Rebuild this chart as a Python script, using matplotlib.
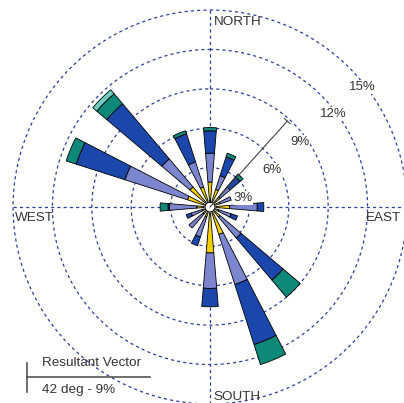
import matplotlib
matplotlib.use("Agg")
import matplotlib.pyplot as plt
import numpy as np
from matplotlib.lines import Line2D

# wind rose: 16 directions, frequency (%) per speed class
directions = [0, 22.5, 45, 67.5, 90, 112.5, 135, 157.5,
              180, 202.5, 225, 247.5, 270, 292.5, 315, 337.5]
class1 = [1.9, 1.4, 1.0, 0.8, 1.5, 0.7, 1.0, 2.2, 3.5, 0.8, 0.7, 0.6, 1.0, 1.8, 2.0, 1.6]
class2 = [2.2, 1.1, 1.0, 0.9, 2.1, 1.0, 2.1, 4.0, 2.7, 1.6, 1.4, 0.9, 2.1, 5.0, 2.8, 2.0]
class3 = [1.7, 1.5, 1.0, 0.0, 0.5, 0.5, 4.2, 4.8, 1.4, 0.7, 0.0, 0.4, 0.1, 3.9, 5.5, 2.25]
class4 = [0.25, 0.3, 0.3, 0.0, 0.0, 0.0, 1.7, 1.6, 0.0, 0.0, 0.0, 0.0, 0.6, 0.8, 1.0, 0.25]
class5 = [0, 0, 0, 0, 0, 0, 0, 0, 0, 0, 0, 0, 0, 0, 0.4, 0]
colors = ["#f5d000", "#7b86cf", "#1b47ad", "#0e8878", "#6ecbc0"]

rings = [3, 6, 9, 12, 15]
ring_labels = ["3%", "6%", "9%", "12%", "15%"]
label_pos = [(74.7, 2.6), (59.2, 5.5), (54.2, 8.45), (52.9, 11.74), (51.7, 14.75)]

vector_dir = 42
vector_len = 8.8

W, H = 404, 403
fig = plt.figure(figsize=(W / 100, H / 100), dpi=100)
plt.rcParams['font.family'] = ['Liberation Sans', 'DejaVu Sans']

# axes placed so the centre sits at (210, 207) px, 13.13 px per %
rmax = 15.3
scale = 13.13
cx, cy = 210, 207
rad = rmax * scale
ax = fig.add_axes([(cx - rad) / W, (H - cy - rad) / H, 2 * rad / W, 2 * rad / H],
                  projection="polar")
ax.set_theta_zero_location("N")
ax.set_theta_direction(-1)
ax.set_ylim(0, rmax)
ax.axis("off")

gridc = "#2d3d9e"
t = np.linspace(0, 2 * np.pi, 400)
for r in rings:
    ax.plot(t, np.full_like(t, r), color=gridc, lw=0.9, ls=(0, (2.5, 2.5)), zorder=1)
for a in [0, 90, 180, 270]:
    ax.plot([np.deg2rad(a)] * 2, [0, 15], color=gridc, lw=0.9, ls=(0, (2.5, 2.5)), zorder=1)

theta = np.deg2rad(directions)
width = np.deg2rad(9.5)
bottom = np.zeros(len(directions))
for vals, c in zip([class1, class2, class3, class4, class5], colors):
    vals = np.array(vals, dtype=float)
    m = vals > 0
    ax.bar(theta[m], vals[m], width=width, bottom=bottom[m], color=c,
           edgecolor="black", linewidth=0.6, zorder=3)
    bottom += vals

# calm circle
ax.plot(t, np.full_like(t, 0.38), color="black", lw=0.8, zorder=5)
ax.fill(t, np.full_like(t, 0.38), color="white", zorder=4)

# resultant vector
vt = np.deg2rad(vector_dir)
ax.plot([vt, vt], [0, vector_len], color="#444444", lw=0.8, zorder=6)
d = 0.3
rr = np.hypot(vector_len, d)
dt = np.arctan(d / vector_len)
ax.plot([vt - dt, vt + dt], [rr, rr], color="#444444", lw=0.8, zorder=6)

for lab, (a, r) in zip(ring_labels, label_pos):
    ax.text(np.deg2rad(a), r, lab, ha="center", va="center", fontsize=9.5,
            color="#333333", zorder=7,
            bbox=dict(facecolor="white", edgecolor="none", pad=0.5))

def ftext(x, y, s):
    fig.text(x / W, 1 - y / H, s, ha="left", va="center", fontsize=9.7, color="#333333")

ftext(214, 22, "NORTH")
ftext(213, 397, "SOUTH")
ftext(15, 218, "WEST")
ftext(366, 218, "EAST")
ftext(42, 363, "Resultant Vector")
ftext(42, 390, "42 deg - 9%")

fig.add_artist(Line2D([27 / W, 150 / W], [1 - 377 / H] * 2, color="#555555", lw=1.2))
fig.add_artist(Line2D([27 / W] * 2, [1 - 363 / H, 1 - 392 / H], color="#555555", lw=1.2))

fig.savefig("out.png", dpi=100)
